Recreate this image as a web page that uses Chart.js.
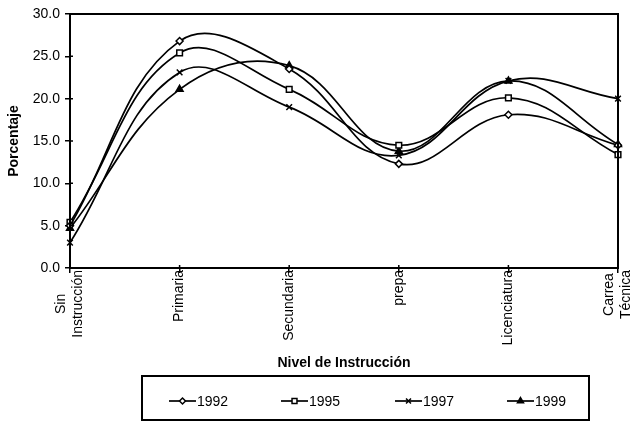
<!DOCTYPE html>
<html>
<head>
<meta charset="utf-8">
<script src="https://cdn.jsdelivr.net/npm/chart.js@4.4.1/dist/chart.umd.min.js"></script>
<style>
  html, body { margin: 0; padding: 0; background: #fff; }
  canvas { display: block; }
</style>
</head>
<body>
<canvas id="chart" width="630" height="421"></canvas>
<script>
// data
var categories = [["Sin", "Instrucción"], "Primaria", "Secundaria", "prepa", "Licenciatura", ["Carrea", "Técnica"]];
var years = ["1992", "1995", "1997", "1999"];
var v1992 = [5.0, 26.8, 23.5, 12.3, 18.1, 14.5];
var v1995 = [5.4, 25.4, 21.1, 14.5, 20.1, 13.4];
var v1997 = [3.0, 23.1, 19.0, 13.3, 22.1, 20.0];
var v1999 = [4.7, 21.1, 23.9, 13.8, 22.1, 14.6];
var yMin = 0, yMax = 30, yStep = 5;

var FONT = "'Liberation Sans', Arial, sans-serif";

var styles = [
    { pointStyle: 'rectRot', radius: 3.5, fill: '#fff' },
    { pointStyle: 'rect', radius: 4, fill: '#fff' },
    { pointStyle: 'crossRot', radius: 4, fill: '#000' },
    { pointStyle: 'triangle', radius: 4, fill: '#000' }
];
var series = [v1992, v1995, v1997, v1999];

var datasets = series.map(function (vals, i) {
    return {
        label: years[i],
        data: vals,
        borderColor: '#000',
        borderWidth: 1.7,
        tension: 0.4,
        pointStyle: styles[i].pointStyle,
        pointRadius: styles[i].radius,
        pointBackgroundColor: styles[i].fill,
        pointBorderColor: '#000',
        pointBorderWidth: 1.5,
        clip: false
    };
});

// frame around the plot area + tick marks poking inside
var frame = {
    id: 'frame',
    afterDraw: function (chart) {
        var a = chart.chartArea, ctx = chart.ctx;
        var sx = chart.scales.x, sy = chart.scales.y;
        ctx.save();
        ctx.strokeStyle = '#000';
        ctx.lineWidth = 2;
        ctx.strokeRect(a.left, a.top, a.right - a.left, a.bottom - a.top);
        ctx.lineWidth = 1.5;
        ctx.beginPath();
        sx.ticks.forEach(function (t, i) {
            var px = sx.getPixelForTick(i);
            ctx.moveTo(px, a.bottom - 3);
            ctx.lineTo(px, a.bottom);
        });
        sy.ticks.forEach(function (t, i) {
            var py = sy.getPixelForTick(i);
            ctx.moveTo(a.left, py);
            ctx.lineTo(a.left + 3, py);
        });
        ctx.stroke();
        ctx.restore();
    }
};

// vertical category labels, centred lines like the original
var xLabels = {
    id: 'xLabels',
    afterDraw: function (chart) {
        var ctx = chart.ctx, sx = chart.scales.x;
        var lh = 17;
        ctx.save();
        ctx.font = '14px ' + FONT;
        ctx.fillStyle = '#000';
        ctx.textAlign = 'center';
        ctx.textBaseline = 'middle';
        categories.forEach(function (cat, i) {
            var lines = Array.isArray(cat) ? cat : [cat];
            var w = Math.max.apply(null, lines.map(function (l) { return ctx.measureText(l).width; }));
            var px = sx.getPixelForTick(i);
            lines.forEach(function (l, j) {
                ctx.save();
                ctx.translate(px + (j - (lines.length - 1) / 2) * lh, sx.top + 2 + w / 2);
                ctx.rotate(-Math.PI / 2);
                ctx.fillText(l, 0, 0);
                ctx.restore();
            });
        });
        ctx.restore();
    }
};

// boxed legend with line + marker samples
var legendBox = {
    id: 'legendBox',
    afterDraw: function (chart) {
        var ctx = chart.ctx;
        var starts = [169, 281, 395, 507];
        var cy = 401;
        ctx.save();
        ctx.strokeStyle = '#000';
        ctx.lineWidth = 2;
        ctx.strokeRect(142, 376, 447, 44);
        ctx.font = '14px ' + FONT;
        ctx.textAlign = 'left';
        ctx.textBaseline = 'middle';
        years.forEach(function (y, i) {
            var x0 = starts[i];
            ctx.strokeStyle = '#000';
            ctx.lineWidth = 1.7;
            ctx.beginPath();
            ctx.moveTo(x0, cy);
            ctx.lineTo(x0 + 27, cy);
            ctx.stroke();
            ctx.fillStyle = styles[i].fill;
            ctx.lineWidth = 1.5;
            Chart.helpers.drawPoint(ctx, { pointStyle: styles[i].pointStyle, radius: styles[i].radius - 0.5, rotation: 0, borderWidth: 1.5 }, x0 + 13.5, cy);
            ctx.fillStyle = '#000';
            ctx.fillText(y, x0 + 28, cy + 1);
        });
        ctx.restore();
    }
};

new Chart(document.getElementById('chart'), {
    type: 'line',
    data: { labels: categories, datasets: datasets },
    options: {
        responsive: false,
        animation: false,
        layout: { padding: { left: 0, top: 14, right: 12, bottom: 46 } },
        plugins: {
            legend: { display: false },
            tooltip: { enabled: false }
        },
        scales: {
            x: {
                offset: false,
                grid: { display: true, drawOnChartArea: false, drawTicks: true, tickLength: 5, color: '#000', lineWidth: 1.5 },
                border: { display: true, color: '#000', width: 2 },
                ticks: { display: false, autoSkip: false },
                title: {
                    display: true,
                    text: 'Nivel de Instrucción',
                    color: '#000',
                    font: { family: FONT, size: 14, weight: 'bold' },
                    padding: { top: 4, bottom: 3 }
                },
                afterFit: function (scale) { scale.height = 107; }
            },
            y: {
                min: yMin,
                max: yMax,
                grid: { display: true, drawOnChartArea: false, drawTicks: true, tickLength: 5, color: '#000', lineWidth: 1.5 },
                border: { display: true, color: '#000', width: 2 },
                ticks: {
                    stepSize: yStep,
                    color: '#000',
                    padding: 5,
                    font: { family: FONT, size: 14 },
                    callback: function (v) { return v.toFixed(1); }
                },
                title: {
                    display: true,
                    text: 'Porcentaje',
                    color: '#000',
                    font: { family: FONT, size: 14, weight: 'bold' },
                    padding: { top: 6, bottom: 0 }
                },
                afterFit: function (scale) { scale.width = 70; }
            }
        }
    },
    plugins: [frame, xLabels, legendBox]
});
</script>
</body>
</html>
